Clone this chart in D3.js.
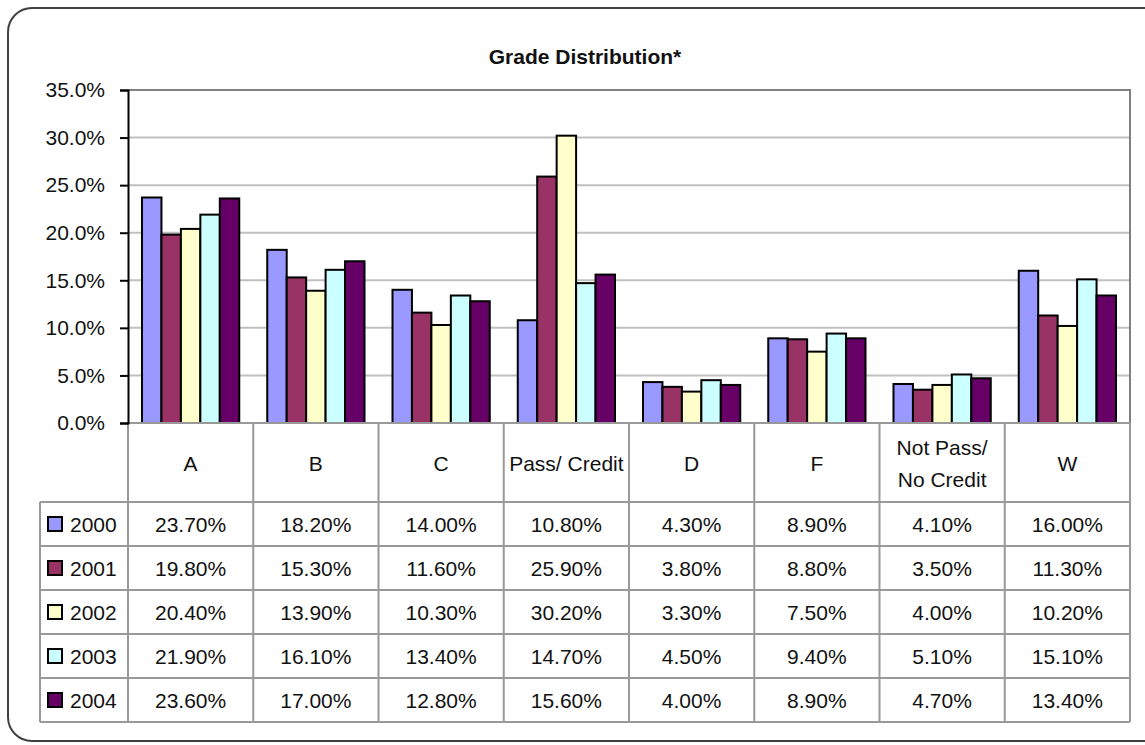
<!DOCTYPE html>
<html>
<head>
<meta charset="utf-8">
<script src="https://cdn.jsdelivr.net/npm/d3@7/dist/d3.min.js"></script>
<style>
  body { margin: 0; background: #fff; overflow: hidden; }
  text { font-family: "Liberation Sans", Arial, sans-serif; fill: #111; }
</style>
</head>
<body>
<div id="chart"></div>
<script>
const categories = ["A", "B", "C", "Pass/ Credit", "D", "F", "Not Pass/ No Credit", "W"];
const headerLines = [["A"], ["B"], ["C"], ["Pass/ Credit"], ["D"], ["F"], ["Not Pass/", "No Credit"], ["W"]];
const years = ["2000", "2001", "2002", "2003", "2004"];
const colors = ["#9999ff", "#993366", "#ffffcc", "#ccffff", "#660066"];
const values2000 = [0.237, 0.182, 0.140, 0.108, 0.043, 0.089, 0.041, 0.160];
const values2001 = [0.198, 0.153, 0.116, 0.259, 0.038, 0.088, 0.035, 0.113];
const values2002 = [0.204, 0.139, 0.103, 0.302, 0.033, 0.075, 0.040, 0.102];
const values2003 = [0.219, 0.161, 0.134, 0.147, 0.045, 0.094, 0.051, 0.151];
const values2004 = [0.236, 0.170, 0.128, 0.156, 0.040, 0.089, 0.047, 0.134];
const yTicks = [0, 0.05, 0.10, 0.15, 0.20, 0.25, 0.30, 0.35];

const series = [values2000, values2001, values2002, values2003, values2004];

let width = 1145, height = 745;
let plotLeft = 128, plotRight = 1130, plotTop = 90, plotBottom = 423;
let headerBottom = 502, rowHeight = 44, legendLeft = 40;

let svg = d3.select("#chart").append("svg").attr("width", width).attr("height", height);

// chart area border (right side runs off the picture)
svg.append("rect")
  .attr("x", 8).attr("y", 8)
  .attr("width", 1200).attr("height", 733)
  .attr("rx", 24).attr("ry", 24)
  .attr("fill", "#fff").attr("stroke", "#404040").attr("stroke-width", 2);

svg.append("text")
  .attr("x", 585).attr("y", 64)
  .attr("text-anchor", "middle")
  .attr("font-size", 21).attr("font-weight", "bold")
  .text("Grade Distribution*");

let x0 = d3.scaleBand().domain(categories).range([plotLeft, plotRight]);
let step = x0.step();
let x1 = d3.scaleBand().domain(years).range([14, step - 14]);
let y = d3.scaleLinear().domain([0, 0.35]).range([plotBottom, plotTop]);

// gridlines
svg.append("g").selectAll("line").data(yTicks.filter(d => d > 0 && d < 0.35)).join("line")
  .attr("x1", plotLeft).attr("x2", plotRight)
  .attr("y1", d => y(d)).attr("y2", d => y(d))
  .attr("stroke", "#c0c0c0").attr("stroke-width", 2);

// plot border top/right
svg.append("path")
  .attr("d", `M${plotLeft},${y(0.35)}H${plotRight}V${plotBottom}`)
  .attr("fill", "none").attr("stroke", "#808080").attr("stroke-width", 2);

// bars
let groups = svg.append("g").selectAll("g").data(categories).join("g")
  .attr("transform", d => `translate(${x0(d)},0)`);
groups.selectAll("rect").data((d, i) => years.map((yr, j) => ({ yr: yr, j: j, v: series[j][i] }))).join("rect")
  .attr("x", d => x1(d.yr))
  .attr("width", x1.bandwidth())
  .attr("y", d => y(d.v))
  .attr("height", d => y(0) - y(d.v))
  .attr("fill", d => colors[d.j])
  .attr("stroke", "#000").attr("stroke-width", 2);

// table
let tableBottom = headerBottom + rowHeight * years.length;
let grid = svg.append("g").attr("stroke", "#999").attr("stroke-width", 2).attr("fill", "none");
grid.append("line").attr("x1", plotLeft).attr("x2", plotRight).attr("y1", plotBottom).attr("y2", plotBottom);
for (let r = 0; r <= years.length; r++) {
  let yy = headerBottom + r * rowHeight;
  grid.append("line").attr("x1", legendLeft).attr("x2", plotRight).attr("y1", yy).attr("y2", yy);
}
grid.append("line").attr("x1", legendLeft).attr("x2", legendLeft).attr("y1", headerBottom).attr("y2", tableBottom);
categories.forEach(c => {
  grid.append("line").attr("x1", x0(c)).attr("x2", x0(c)).attr("y1", plotBottom).attr("y2", tableBottom);
});
grid.append("line").attr("x1", plotRight).attr("x2", plotRight).attr("y1", plotBottom).attr("y2", tableBottom);

// header labels
categories.forEach((c, i) => {
  let lines = headerLines[i];
  let cy = (plotBottom + headerBottom) / 2;
  let t = svg.append("text")
    .attr("text-anchor", "middle")
    .attr("font-size", 21);
  lines.forEach((ln, k) => {
    t.append("tspan")
      .attr("x", x0(c) + step / 2)
      .attr("y", cy + 8 + (k - (lines.length - 1) / 2) * 32)
      .text(ln);
  });
});

// rows
let fmt = d3.format(".2%");
years.forEach((yr, j) => {
  let cy = headerBottom + j * rowHeight + rowHeight / 2;
  svg.append("rect")
    .attr("x", 48).attr("y", cy - 7).attr("width", 14).attr("height", 14)
    .attr("fill", colors[j]).attr("stroke", "#000").attr("stroke-width", 2);
  svg.append("text")
    .attr("x", 70).attr("y", cy + 8)
    .attr("font-size", 21)
    .text(yr);
  categories.forEach((c, i) => {
    svg.append("text")
      .attr("x", x0(c) + step / 2).attr("y", cy + 8)
      .attr("text-anchor", "middle")
      .attr("font-size", 21)
      .text(fmt(series[j][i]));
  });
});

// y axis
let yAxis = d3.axisLeft(y).tickValues(yTicks).tickFormat(d3.format(".1%")).tickSize(8).tickPadding(15);
let ax = svg.append("g").attr("transform", `translate(${plotLeft},0)`).call(yAxis);
ax.select(".domain").attr("stroke", "#000").attr("stroke-width", 2);
ax.selectAll(".tick line").attr("stroke", "#000").attr("stroke-width", 2);
ax.selectAll(".tick text").attr("font-size", 21).attr("font-family", "Liberation Sans, Arial, sans-serif").attr("fill", "#111");
</script>
</body>
</html>
